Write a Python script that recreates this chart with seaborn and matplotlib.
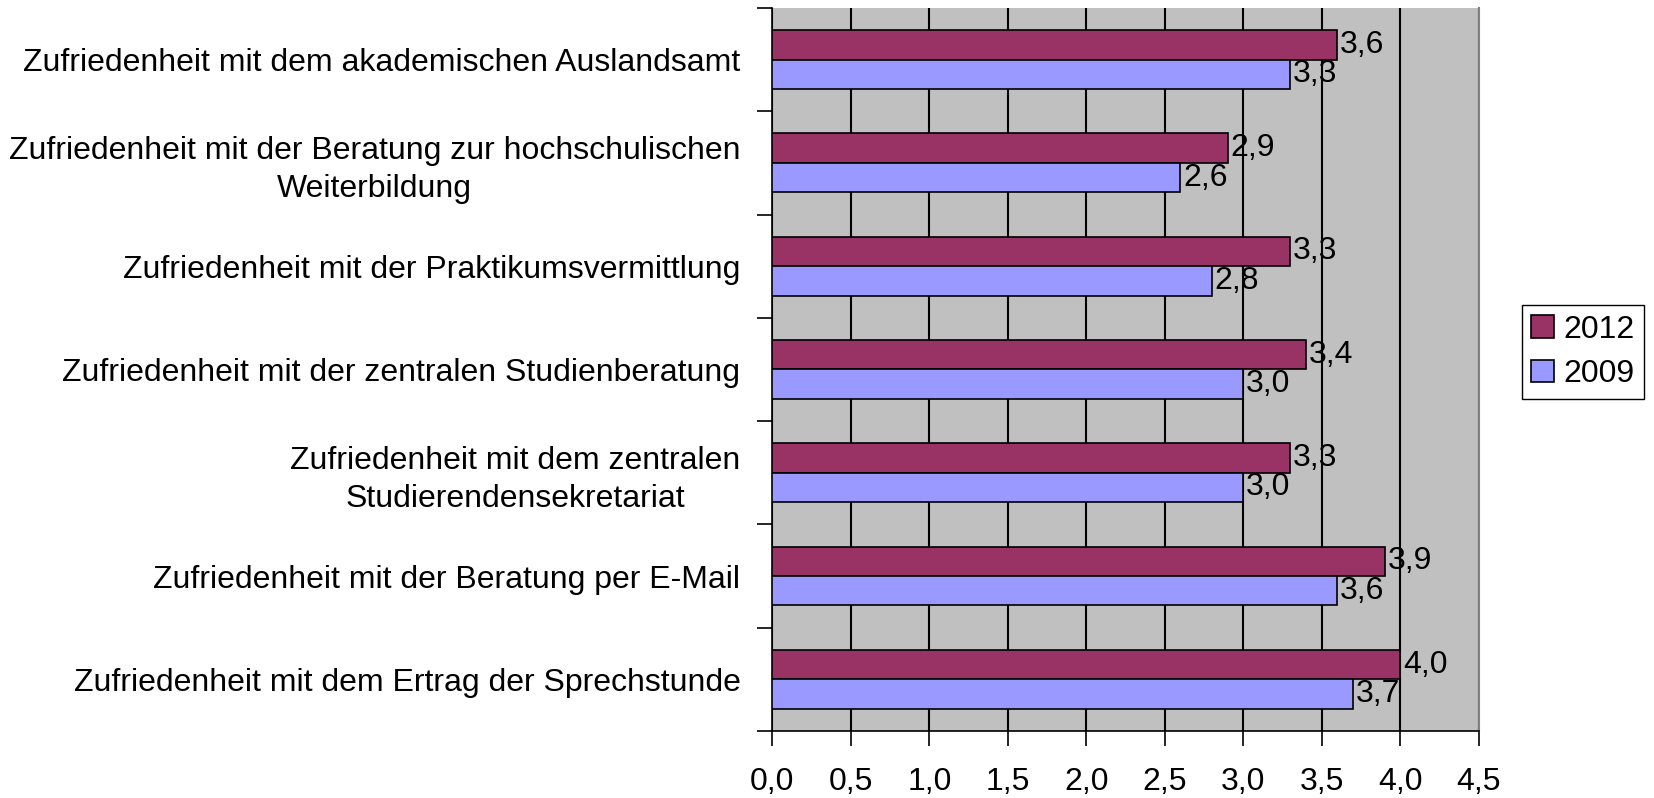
import pandas as pd
import numpy as np
import matplotlib.pyplot as plt
import seaborn as sns

# Chart data
categories = [
    "Zufriedenheit mit dem akademischen Auslandsamt",
    "Zufriedenheit mit der Beratung zur hochschulischen\nWeiterbildung",
    "Zufriedenheit mit der Praktikumsvermittlung",
    "Zufriedenheit mit der zentralen Studienberatung",
    "Zufriedenheit mit dem zentralen\nStudierendensekretariat",
    "Zufriedenheit mit der Beratung per E-Mail",
    "Zufriedenheit mit dem Ertrag der Sprechstunde",
]
years = ["2012", "2009"]
values_2012 = [3.6, 2.9, 3.3, 3.4, 3.3, 3.9, 4.0]
values_2009 = [3.3, 2.6, 2.8, 3.0, 3.0, 3.6, 3.7]
x_ticks = [0.0, 0.5, 1.0, 1.5, 2.0, 2.5, 3.0, 3.5, 4.0, 4.5]
colors = {"2012": "#993366", "2009": "#9999FF"}

# Long table for seaborn
df = pd.DataFrame({
    "Kategorie": categories * 2,
    "Jahr": ["2012"] * len(categories) + ["2009"] * len(categories),
    "Wert": values_2012 + values_2009,
})

sns.set_style("white")
plt.rcParams['font.family'] = ['Liberation Sans', 'DejaVu Sans']
plt.rcParams['text.color'] = 'black'
plt.rcParams['xtick.color'] = 'black'
plt.rcParams['ytick.color'] = 'black'
fs = 23

fig = plt.figure(figsize=(16.54, 7.98), dpi=100)
ax = fig.add_axes([0.467, 0.084, 0.894 - 0.467, 0.906])

sns.barplot(data=df, y="Kategorie", x="Wert", hue="Jahr", hue_order=years,
            order=categories, palette=colors, orient="h", width=0.57,
            edgecolor="black", linewidth=1.2, saturation=1, ax=ax, zorder=3)

# value labels with German decimal comma
for cont, yr in zip(ax.containers, years):
    labels = [f"{v:.1f}".replace(".", ",") for v in cont.datavalues]
    ax.bar_label(cont, labels=labels, padding=2, fontsize=fs, zorder=4)

ax.set_facecolor("#C0C0C0")
ax.set_xlim(0, 4.5)
ax.set_ylim(len(categories) - 0.5, -0.5)
ax.set_xticks(x_ticks)
ax.set_xticklabels([f"{t:.1f}".replace(".", ",") for t in x_ticks], fontsize=fs)
ax.xaxis.grid(True, color="black", linewidth=1.5, zorder=0)
ax.set_axisbelow(True)

# y labels at centers, tick marks at group boundaries
ax.set_yticks(range(len(categories)))
ax.set_yticklabels(categories, fontsize=fs, multialignment="center", linespacing=1.35)
ax.set_yticks(np.arange(-0.5, len(categories), 1.0), minor=True)
ax.tick_params(axis="y", which="major", length=0, pad=23)
ax.tick_params(axis="y", which="minor", length=11, width=1.2, color="black", direction="out", left=True)
ax.tick_params(axis="x", which="major", length=11, width=1.2, color="black", direction="out", bottom=True, pad=15)

ax.set_xlabel("")
ax.set_ylabel("")
for side in ["left", "bottom"]:
    ax.spines[side].set_color("black")
    ax.spines[side].set_linewidth(1.2)
ax.spines["top"].set_visible(False)
ax.spines["right"].set_color("#808080")
ax.spines["right"].set_linewidth(1.5)

ax.legend_.remove()
handles = [plt.Rectangle((0, 0), 1, 1, facecolor=colors[y], edgecolor="black", linewidth=1.2) for y in years]
fig.legend(handles, years, loc="center", bbox_to_anchor=(0.957, 0.559), fontsize=fs,
           frameon=True, fancybox=False, edgecolor="black", framealpha=1,
           handlelength=0.7, handleheight=0.7, handletextpad=0.3, borderpad=0.3,
           labelspacing=0.45, borderaxespad=0)

fig.savefig("out.png", dpi=100)
